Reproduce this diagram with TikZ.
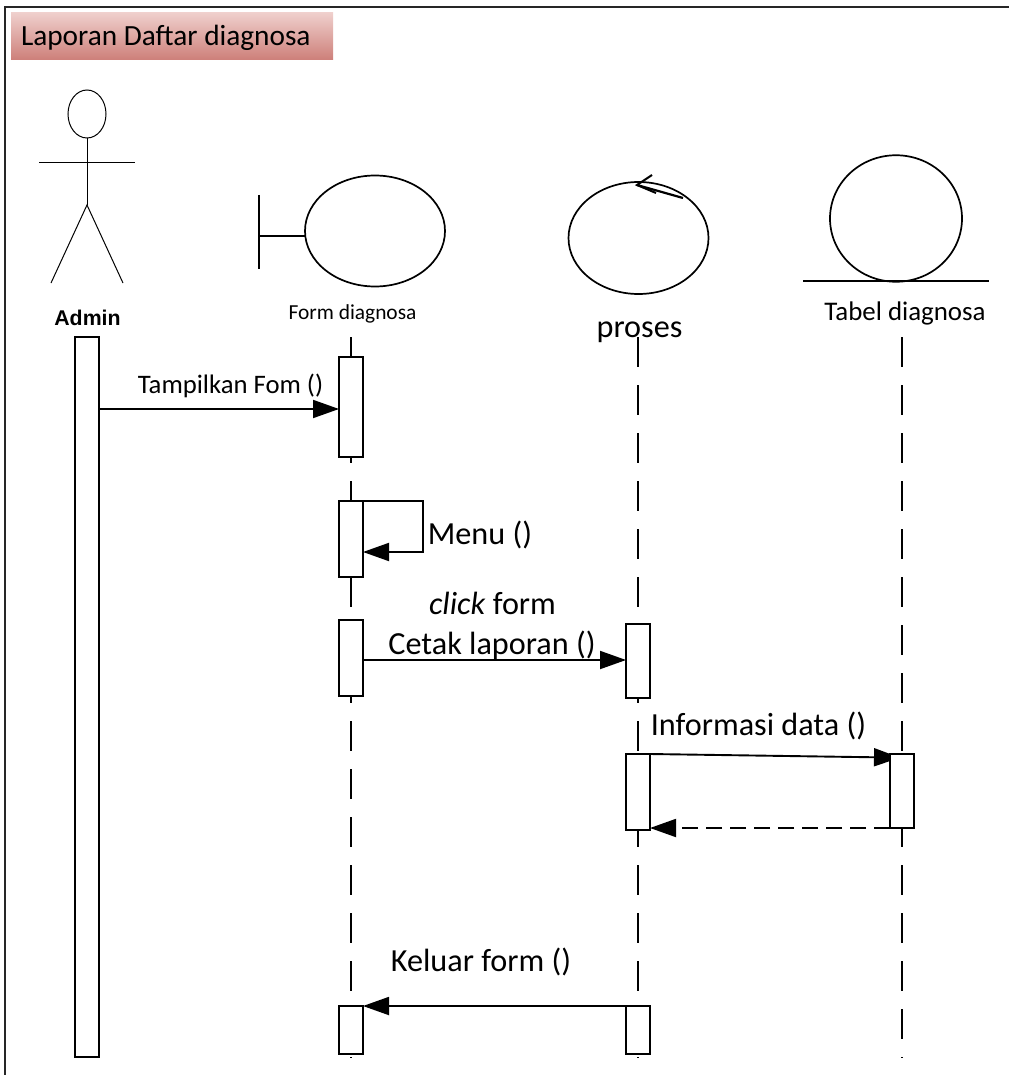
\documentclass[tikz,border=0pt]{standalone}
\usepackage{fontspec}
\setmainfont{Carlito}
\newfontfamily\adminfont{Liberation Sans}
\usetikzlibrary{arrows.meta,calc,shapes.geometric,backgrounds}
\definecolor{titletop}{HTML}{EFCFCC}
\definecolor{titlebot}{HTML}{CD7F79}
\tikzset{
  x=1pt,y=-1pt,
  every node/.style={inner sep=0pt,outer sep=0pt},
  thin line/.style={line width=1pt,black},
  shapeline/.style={line width=1.7pt,black},
  lifeline/.style={line width=1.8pt,black,dash pattern=on 30pt off 18pt},
  activation/.style={draw=black,line width=1.9pt,fill=white,minimum width=24pt,anchor=north},
  msg/.style={line width=1.9pt,black,-{Triangle[length=26pt,width=18pt]}},
  retmsg/.style={msg,dash pattern=on 16pt off 8pt},
  lbl/.style={anchor=base},
  ftitle/.style={anchor=base west,font=\fontsize{29.3}{32}\selectfont},
  fsmall/.style={lbl,font=\fontsize{21.4}{24}\selectfont},
  fmid/.style={lbl,font=\fontsize{26.7}{30}\selectfont},
  ftable/.style={lbl,font=\fontsize{26.9}{30}\selectfont},
  flarge/.style={lbl,font=\fontsize{32.2}{35}\selectfont},
}
\begin{document}
\begin{tikzpicture}
\useasboundingbox (0,0) rectangle (1009,1075);
% frame
\coordinate (fbl) at (5,1075);
\coordinate (ftl) at (5,7);
\coordinate (ftr) at (1009,7);
\draw[line width=1.8pt,black!85] (fbl) -- (ftl) -- (ftr);
% title
\node[anchor=north west,minimum width=322pt,minimum height=47pt,top color=titletop,bottom color=titlebot] (title) at (11,13) {};
\node[ftitle] (titletext) at (21,46) {Laporan Daftar diagnosa};
% actor
\node[draw,thin line,ellipse,minimum width=38pt,minimum height=48pt] (head) at (87,114) {};
\coordinate (hip) at (87,205);
\coordinate (armL) at (39,163);
\coordinate (armR) at (135,163);
\coordinate (legL) at (51,283);
\coordinate (legR) at (123,283);
\draw[thin line] (head.south) -- (hip);
\draw[thin line] (armL) -- (armR);
\draw[thin line] (legL) -- (hip) -- (legR);
\node[lbl,font=\adminfont\bfseries\fontsize{21.3}{24}\selectfont] (admin) at (87.5,325) {Admin};
% boundary
\node[draw,shapeline,ellipse,minimum width=140pt,minimum height=111pt] (formC) at (375,231) {};
\coordinate (barT) at (259,195);
\coordinate (barB) at (259,269);
\coordinate (barM) at (259,236);
\draw[shapeline] (barT) -- (barB);
\draw[shapeline] (barM) -- (formC.west |- barM);
\node[fsmall] (formL) at (352.5,319) {Form diagnosa};
% control
\node[draw,shapeline,ellipse,minimum width=140pt,minimum height=112pt] (procC) at (638.5,238) {};
\coordinate (ctlA) at (683,198);
\coordinate (ctlB) at (637,185);
\coordinate (ctlC) at (652,175);
\coordinate (ctlD) at (656,193);
\draw[line width=2.2pt] (ctlA) -- (ctlB);
\draw[line width=2pt] (ctlC) -- (ctlB) -- (ctlD);
\node[flarge] (procL) at (639.5,337) {proses};
% entity
\node[draw,shapeline,ellipse,minimum width=132pt,minimum height=126.5pt] (tblC) at (896,218.5) {};
\coordinate (entL) at (803,281);
\coordinate (entR) at (989,281);
\draw[shapeline] (entL) -- (entR);
\node[ftable] (tblL) at (905,320) {Tabel diagnosa};
% lifelines
\coordinate (ll2a) at (351,337); \coordinate (ll2b) at (351,1058);
\coordinate (ll3a) at (638,337); \coordinate (ll3b) at (638,1058);
\coordinate (ll4a) at (902,337); \coordinate (ll4b) at (902,1058);
\draw[lifeline] (ll2a) -- (ll2b);
\draw[lifeline] (ll3a) -- (ll3b);
\draw[lifeline] (ll4a) -- (ll4b);
% activations
\node[activation,minimum height=720pt] (a0) at (87,337) {};
\node[activation,minimum height=100pt] (f1) at (351,357) {};
\node[activation,minimum height=76pt] (f2) at (351,501) {};
\node[activation,minimum height=76pt] (f3) at (351,620) {};
\node[activation,minimum height=48pt] (f4) at (351,1006) {};
\node[activation,minimum height=74pt] (p1) at (638,624) {};
\node[activation,minimum height=76pt] (p2) at (638,754) {};
\node[activation,minimum height=48pt] (p3) at (638,1006) {};
\node[activation,minimum height=74pt] (t1) at (902,754) {};
% messages
\coordinate (y1) at (0,409);
\coordinate (loopR) at (423,501);
\coordinate (loopB) at (423,552);
\coordinate (y3) at (0,660);
\coordinate (y4) at (0,757.5);
\coordinate (y5) at (0,828);
\draw[msg] (a0.east |- y1) -- (f1.west |- y1);
\node[fmid] (m1) at (230.5,393) {Tampilkan Fom ()};
\draw[msg] (f2.north east) -- (loopR) -- (loopB) -- (f2.east |- loopB);
\node[flarge] (m2) at (480,544) {Menu ()};
\node[flarge] (m3) at (492.5,614) {\textit{click} form};
\node[flarge] (m3b) at (492,654) {Cetak laporan ()};
\draw[msg] (f3.east |- y3) -- (p1.west |- y3);
\node[flarge] (m4) at (758.5,735) {Informasi data ()};
\begin{scope}[on background layer]
\draw[msg,shorten >=-10pt] (p2.north east) -- (t1.west |- y4);
\end{scope}
\draw[retmsg] (t1.south west) -- (p2.east |- y5);
\node[flarge] (m5) at (481,971) {Keluar form ()};
\draw[msg] (p3.north west) -- (f4.north east);
\end{tikzpicture}
\end{document}
